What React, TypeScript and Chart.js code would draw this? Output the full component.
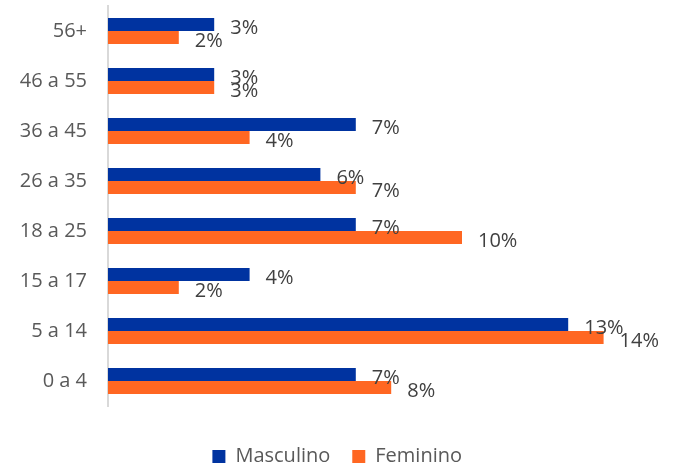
import React, { useEffect, useRef } from "react";
import { Chart, registerables } from "chart.js";

Chart.register(...registerables);

const categories = ["56+", "46 a 55", "36 a 45", "26 a 35", "18 a 25", "15 a 17", "5 a 14", "0 a 4"];
const masculino = [3, 3, 7, 6, 7, 4, 13, 7];
const feminino = [2, 3, 4, 7, 10, 2, 14, 8];
const seriesNames = ["Masculino", "Feminino"];

const FONT = "'Open Sans', sans-serif";

const valueLabels = {
  id: "valueLabels",
  afterDatasetsDraw(chart: any) {
    const ctx = chart.ctx;
    ctx.save();
    ctx.font = `20px ${FONT}`;
    ctx.fillStyle = "#404040";
    ctx.textAlign = "left";
    ctx.textBaseline = "middle";
    chart.data.datasets.forEach((ds: any, i: number) => {
      const meta = chart.getDatasetMeta(i);
      meta.data.forEach((el: any, j: number) => {
        ctx.fillText(`${ds.data[j]}%`, el.x + 16, el.y + 3.5);
      });
    });
    ctx.restore();
  },
};

export default function App() {
  const ref = useRef<HTMLCanvasElement | null>(null);
  useEffect(() => {
    if (!ref.current) return;
    const chart = new Chart(ref.current, {
      type: "bar",
      data: {
        labels: categories,
        datasets: [
          { label: seriesNames[0], data: masculino, backgroundColor: "#0033A0", borderWidth: 0 },
          { label: seriesNames[1], data: feminino, backgroundColor: "#FF6722", borderWidth: 0 },
        ],
      },
      options: {
        indexAxis: "y",
        animation: false,
        responsive: true,
        maintainAspectRatio: false,
        layout: { padding: { left: 0, right: 1.6, top: 6, bottom: -5.5 } },
        datasets: { bar: { categoryPercentage: 0.52, barPercentage: 1 } },
        scales: {
          x: {
            min: 0,
            max: 16,
            ticks: { display: false },
            grid: { display: false, drawTicks: false },
            border: { display: false },
            afterFit: (s: any) => {
              s.height = 18.5;
              s.paddingLeft = 0;
              s.paddingRight = 0;
            },
          },
          y: {
            ticks: { color: "#595959", font: { family: FONT, size: 20 }, padding: 21 },
            grid: { display: false, drawTicks: false },
            border: { display: true, color: "#d9d9d9", width: 2 },
            afterFit: (s: any) => {
              s.width = 108;
              s.paddingTop = 0;
              s.paddingBottom = 0;
            },
          },
        },
        plugins: {
          legend: {
            position: "bottom",
            labels: {
              boxWidth: 13,
              boxHeight: 13,
              padding: 22,
              color: "#595959",
              font: { family: FONT, size: 20 },
            },
          },
          tooltip: { enabled: false },
        },
      },
      plugins: [valueLabels],
    });
    return () => chart.destroy();
  }, []);
  return (
    <div style={{ position: "absolute", left: 0, top: 0, width: 676, height: 471 }}>
      <canvas ref={ref} />
    </div>
  );
}
